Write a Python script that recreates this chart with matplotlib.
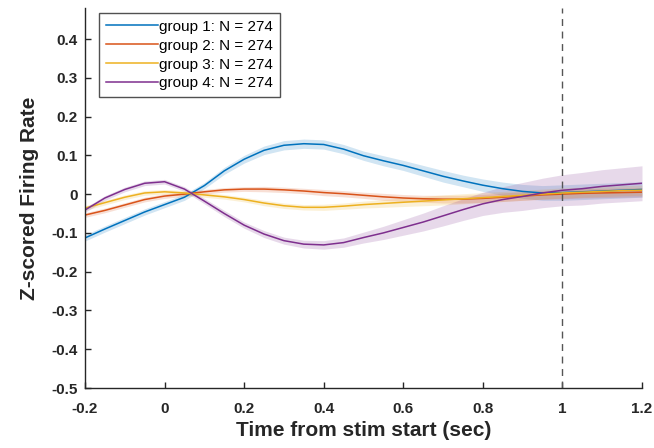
import numpy as np
import matplotlib
matplotlib.use('Agg')
import matplotlib.pyplot as plt

plt.rcParams['font.family'] = ['Liberation Sans', 'DejaVu Sans']

# time axis (sec)
t = [-0.2, -0.15, -0.1, -0.05, 0.0, 0.05, 0.1, 0.15, 0.2, 0.25, 0.3, 0.35, 0.4, 0.45,
     0.5, 0.55, 0.6, 0.65, 0.7, 0.75, 0.8, 0.85, 0.9, 0.95, 1.0, 1.05, 1.1, 1.15, 1.2]

g1 = [-0.113, -0.09, -0.068, -0.046, -0.027, -0.008, 0.022, 0.06, 0.09, 0.113, 0.126, 0.13, 0.128,
      0.116, 0.099, 0.086, 0.074, 0.06, 0.046, 0.034, 0.023, 0.014, 0.007, 0.003, 0.004, 0.006,
      0.008, 0.01, 0.012]
g2 = [-0.054, -0.042, -0.028, -0.014, -0.005, 0.0, 0.006, 0.011, 0.013, 0.013, 0.011, 0.008, 0.004,
      0.001, -0.003, -0.007, -0.01, -0.012, -0.013, -0.013, -0.011, -0.008, -0.005, -0.002, 0.0,
      0.002, 0.003, 0.004, 0.005]
g3 = [-0.036, -0.022, -0.008, 0.003, 0.006, 0.003, -0.002, -0.007, -0.014, -0.023, -0.03, -0.034,
      -0.034, -0.031, -0.027, -0.024, -0.021, -0.018, -0.015, -0.012, -0.009, -0.006, -0.003, 0.0,
      0.003, 0.005, 0.007, 0.009, 0.01]
g4 = [-0.041, -0.01, 0.012, 0.028, 0.032, 0.013, -0.018, -0.05, -0.08, -0.103, -0.12, -0.129, -0.131,
      -0.125, -0.112, -0.1, -0.086, -0.072, -0.056, -0.04, -0.025, -0.014, -0.006, 0.003, 0.01,
      0.014, 0.02, 0.024, 0.028]

# standard error half-widths
e1 = [0.008, 0.008, 0.008, 0.008, 0.008, 0.008, 0.008, 0.009, 0.01, 0.011, 0.012, 0.012, 0.012,
      0.012, 0.012, 0.013, 0.013, 0.014, 0.015, 0.015, 0.016, 0.017, 0.018, 0.019, 0.02, 0.02,
      0.02, 0.02, 0.02]
e2 = [0.006, 0.006, 0.006, 0.006, 0.006, 0.006, 0.006, 0.006, 0.006, 0.007, 0.007, 0.007, 0.008,
      0.008, 0.008, 0.009, 0.009, 0.009, 0.01, 0.01, 0.01, 0.011, 0.011, 0.011, 0.012, 0.012,
      0.012, 0.012, 0.012]
e3 = [0.006, 0.006, 0.006, 0.006, 0.006, 0.006, 0.006, 0.006, 0.006, 0.007, 0.007, 0.007, 0.008,
      0.008, 0.009, 0.01, 0.011, 0.012, 0.013, 0.013, 0.013, 0.013, 0.013, 0.013, 0.013, 0.013,
      0.013, 0.013, 0.013]
e4 = [0.006, 0.006, 0.006, 0.006, 0.006, 0.006, 0.007, 0.008, 0.008, 0.009, 0.009, 0.01, 0.011,
      0.012, 0.014, 0.017, 0.02, 0.023, 0.026, 0.028, 0.03, 0.033, 0.036, 0.038, 0.04, 0.042,
      0.043, 0.044, 0.045]

labels = ['group 1: N = 274', 'group 2: N = 274', 'group 3: N = 274', 'group 4: N = 274']
colors = ['#0072BD', '#D95319', '#EDB120', '#7E2F8E']

fig = plt.figure(figsize=(6.54, 4.48), dpi=100)
ax = fig.add_axes([85 / 654, 60 / 448, 557 / 654, 380 / 448])

t = np.array(t)
for m, e, c, lab in zip([g1, g2, g3, g4], [e1, e2, e3, e4], colors, labels):
    m = np.array(m)
    e = np.array(e)
    ax.fill_between(t, m - e, m + e, color=c, alpha=0.18, linewidth=0)
    ax.plot(t, m, color=c, linewidth=1.1, label=lab)

ax.axvline(1.0, color='#555555', linestyle=(0, (5, 4)), linewidth=1.0)

ax.set_xlim(-0.2, 1.2)
ax.set_ylim(-0.5, 0.48)
ax.set_xticks([-0.2, 0, 0.2, 0.4, 0.6, 0.8, 1, 1.2])
ax.set_xticklabels(['-0.2', '0', '0.2', '0.4', '0.6', '0.8', '1', '1.2'])
ax.set_yticks([-0.5, -0.4, -0.3, -0.2, -0.1, 0, 0.1, 0.2, 0.3, 0.4])
ax.set_yticklabels(['-0.5', '-0.4', '-0.3', '-0.2', '-0.1', '0', '0.1', '0.2', '0.3', '0.4'])

for s in ['top', 'right']:
    ax.spines[s].set_visible(False)
for s in ['left', 'bottom']:
    ax.spines[s].set_color('#262626')
    ax.spines[s].set_linewidth(1.0)

ax.tick_params(direction='in', length=4, width=1.0, color='#262626', labelcolor='#262626',
               labelsize=11)
ax.tick_params(axis='x', pad=10)
ax.tick_params(axis='y', pad=5)
for lbl in ax.get_xticklabels() + ax.get_yticklabels():
    lbl.set_fontweight('bold')

ax.set_xlabel('Time from stim start (sec)', fontsize=15, fontweight='bold', color='#262626', labelpad=4)
ax.set_ylabel('Z-scored Firing Rate', fontsize=15, fontweight='bold', color='#262626', labelpad=9)

leg = ax.legend(loc='upper left', bbox_to_anchor=(0.025, 0.987), fontsize=11, frameon=True,
                fancybox=False, edgecolor='#262626', handlelength=3.4, handletextpad=0.1,
                labelspacing=0.32, borderpad=0.45, borderaxespad=0)
leg.get_frame().set_linewidth(1.0)

fig.savefig('out.png', dpi=100)
